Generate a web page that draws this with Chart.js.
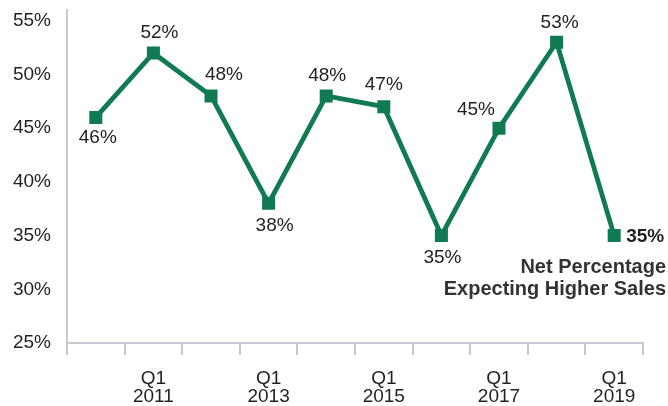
<!DOCTYPE html>
<html>
<head>
<meta charset="utf-8">
<script src="https://cdn.jsdelivr.net/npm/chart.js@4.4.1/dist/chart.umd.min.js"></script>
<style>
  html, body { margin: 0; padding: 0; background: #fff; }
  #wrap { width: 668px; height: 406px; position: relative; }
</style>
</head>
<body>
<div id="wrap"><canvas id="chart"></canvas></div>
<script>
// Net percentage of firms expecting higher sales, Q1 readings 2010-2019
const years = ['2010', '2011', '2012', '2013', '2014', '2015', '2016', '2017', '2018', '2019'];
const netHigherSales = [46, 52, 48, 38, 48, 47, 35, 45, 53, 35];
const yTicks = [25, 30, 35, 40, 45, 50, 55];
const seriesName = ['Net Percentage', 'Expecting Higher Sales'];

// label nudges (dx, dy) from each point; the last one sits to the right in bold
const labelNudge = [[2, 20], [6, -20], [13, -21], [6, 22], [1, -20], [0, -22], [1, 22], [-23, -18], [3, -19], null];

const GREEN = '#107a52';
const AXIS = '#c6c9cf';
const TEXT = '#231f20';
const FONT = '"Liberation Sans", Arial, sans-serif';

// draws the "46%" style labels next to every point, plus the series caption
const valueLabels = {
  id: 'valueLabels',
  afterDatasetsDraw(chart){
    const c = chart.ctx;
    const meta = chart.getDatasetMeta(0);
    c.save();
    c.fillStyle = TEXT;
    c.textBaseline = 'middle';
    meta.data.forEach((pt, i) => {
      const txt = netHigherSales[i] + '%';
      const nudge = labelNudge[i];
      if(nudge){
        c.font = '19px ' + FONT;
        c.textAlign = 'center';
        c.fillText(txt, pt.x + nudge[0], pt.y + nudge[1]);
      } else {
        c.font = 'bold 19px ' + FONT;
        c.textAlign = 'left';
        c.fillText(txt, pt.x + 12, pt.y + 1);
      }
    });
    // caption under the last point
    const last = meta.data[meta.data.length - 1];
    c.font = 'bold 20px ' + FONT;
    c.fillStyle = '#333';
    c.textAlign = 'right';
    c.fillText(seriesName[0], chart.width - 2, last.y + 32);
    c.fillText(seriesName[1], chart.width - 2, last.y + 54);
    c.restore();
  }
};

const ctx = document.getElementById('chart').getContext('2d');
const chart = new Chart(ctx, {
  type: 'line',
  data: {
    labels: years,
    datasets: [{
      data: netHigherSales,
      borderColor: GREEN,
      backgroundColor: GREEN,
      borderWidth: 4.8,
      tension: 0,
      pointStyle: 'rect',
      pointRadius: 9.2,
      pointHoverRadius: 9.2,
      pointBorderWidth: 0,
      pointBackgroundColor: GREEN
    }]
  },
  options: {
    responsive: true,
    maintainAspectRatio: false,
    animation: false,
    layout: { padding: { top: 10, right: 25, left: 0, bottom: 0 } },
    plugins: { legend: { display: false }, tooltip: { enabled: false } },
    scales: {
      x: {
        offset: true,
        grid: { display: true, offset: true, drawOnChartArea: false, drawTicks: true, tickLength: 12, color: AXIS, lineWidth: 2 },
        border: { display: true, color: AXIS, width: 2 },
        ticks: {
          color: TEXT,
          font: { family: FONT, size: 19, lineHeight: 0.95 },
          padding: 15,
          maxRotation: 0,
          autoSkip: false,
          callback: (v, i) => (i % 2 === 1) ? ['Q1', years[i]] : ''
        },
        afterFit: s => { s.height = 63; s.paddingLeft = 0; s.paddingRight = 0; }
      },
      y: {
        min: 25,
        max: 56,
        afterBuildTicks: s => { s.ticks = yTicks.map(v => ({ value: v })); },
        grid: { display: false, drawTicks: false },
        border: { display: true, color: AXIS, width: 2 },
        ticks: {
          color: TEXT,
          font: { family: FONT, size: 19 },
          padding: 16,
          callback: v => v + '%'
        },
        afterFit: s => { s.width = 67; s.paddingTop = 0; s.paddingBottom = 0; }
      }
    }
  },
  plugins: [valueLabels]
});
</script>
</body>
</html>
